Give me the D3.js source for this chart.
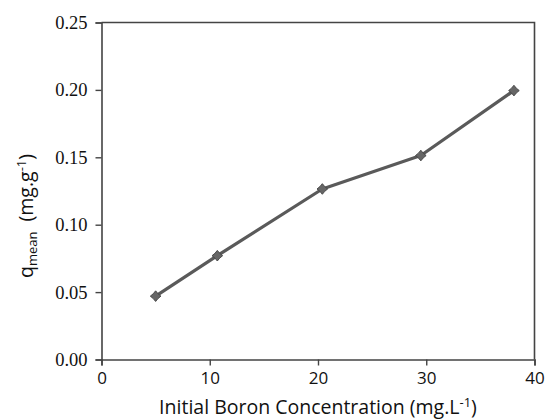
<!DOCTYPE html>
<html>
<head>
<meta charset="utf-8">
<script src="https://cdn.jsdelivr.net/npm/d3@7/dist/d3.min.js"></script>
<style>
  html, body { margin: 0; padding: 0; background: #fff; }
  svg { display: block; }
</style>
</head>
<body>
<svg id="chart" width="547" height="419"></svg>
<script>
// Data
const concentration = [5, 10.7, 20.4, 29.5, 38.1];
const qMean = [0.047, 0.077, 0.1265, 0.1513, 0.1995];
const xTicks = [0, 10, 20, 30, 40];
const yTicks = [0, 0.05, 0.10, 0.15, 0.20, 0.25];

const svg = d3.select("#chart");
const mLeft = 101.5, mRight = 534.5, mTop = 22.5, mBottom = 359.5;

const x = d3.scaleLinear().domain([0, 40]).range([mLeft, mRight]);
const y = d3.scaleLinear().domain([0, 0.25]).range([mBottom, mTop]);

const axisColor = "#444";

// Frame (top and right)
svg.append("path")
  .attr("d", `M${mLeft},${mTop}H${mRight}V${mBottom}`)
  .attr("fill", "none").attr("stroke", axisColor).attr("stroke-width", 1.6);

// Y axis
const yAxis = d3.axisLeft(y).tickValues(yTicks).tickFormat(d3.format(".2f")).tickSize(6).tickPadding(8);
const gy = svg.append("g").attr("transform", `translate(${mLeft},0)`).call(yAxis);
gy.select(".domain").attr("stroke", axisColor).attr("stroke-width", 1.6);
gy.selectAll(".tick line").attr("stroke", axisColor).attr("stroke-width", 1.4);
gy.selectAll(".tick text")
  .attr("fill", "#111")
  .style("font-family", "'Liberation Serif', 'Times New Roman', serif")
  .style("font-size", "18.5px");

// X axis
const xAxis = d3.axisBottom(x).tickValues(xTicks).tickFormat(d3.format("d")).tickSize(6).tickPadding(6);
const gx = svg.append("g").attr("transform", `translate(0,${mBottom})`).call(xAxis);
gx.select(".domain").attr("stroke", axisColor).attr("stroke-width", 1.6);
gx.selectAll(".tick line").attr("stroke", axisColor).attr("stroke-width", 1.4);
gx.selectAll(".tick text")
  .attr("fill", "#111")
  .style("font-family", "'Open Sans', sans-serif")
  .style("font-size", "17px");

// X title
const xt = svg.append("text")
  .attr("x", 318).attr("y", 414)
  .attr("text-anchor", "middle")
  .attr("fill", "#111")
  .style("font-family", "'Open Sans', sans-serif")
  .style("font-size", "19.5px");
xt.append("tspan").text("Initial Boron Concentration (mg.L");
xt.append("tspan").attr("dy", -7).style("font-size", "13px").text("-1");
xt.append("tspan").attr("dy", 7).text(")");

// Y title
const yt = svg.append("text")
  .attr("transform", "translate(33,216) rotate(-90)")
  .attr("text-anchor", "middle")
  .attr("fill", "#111")
  .style("font-family", "'Open Sans', sans-serif")
  .style("font-size", "19.5px");
yt.append("tspan").text("q");
yt.append("tspan").attr("dy", 4).style("font-size", "13px").text("mean");
yt.append("tspan").attr("dy", -4).text("\u00a0\u00a0(mg.g");
yt.append("tspan").attr("dy", -7).style("font-size", "13px").text("-1");
yt.append("tspan").attr("dy", 7).text(")");

// Line
const pts = concentration.map((c, i) => [c, qMean[i]]);
svg.append("path")
  .datum(pts)
  .attr("d", d3.line().x(d => x(d[0])).y(d => y(d[1])))
  .attr("fill", "none")
  .attr("stroke", "#5a5a5a")
  .attr("stroke-width", 3.2)
  .attr("stroke-linejoin", "round");

// Markers: slightly concave diamond
const star = {
  draw(ctx, size) {
    const r = Math.sqrt(size) * 0.75, c = r * 0.45;
    ctx.moveTo(0, -r);
    ctx.lineTo(c, -c);
    ctx.lineTo(r, 0);
    ctx.lineTo(c, c);
    ctx.lineTo(0, r);
    ctx.lineTo(-c, c);
    ctx.lineTo(-r, 0);
    ctx.lineTo(-c, -c);
    ctx.closePath();
  }
};
svg.selectAll(".mk").data(pts).enter().append("path")
  .attr("class", "mk")
  .attr("transform", d => `translate(${x(d[0])},${y(d[1])})`)
  .attr("d", d3.symbol().type(star).size(50))
  .attr("fill", "#666")
  .attr("stroke", "#4a4a4a")
  .attr("stroke-width", 1);
</script>
</body>
</html>
